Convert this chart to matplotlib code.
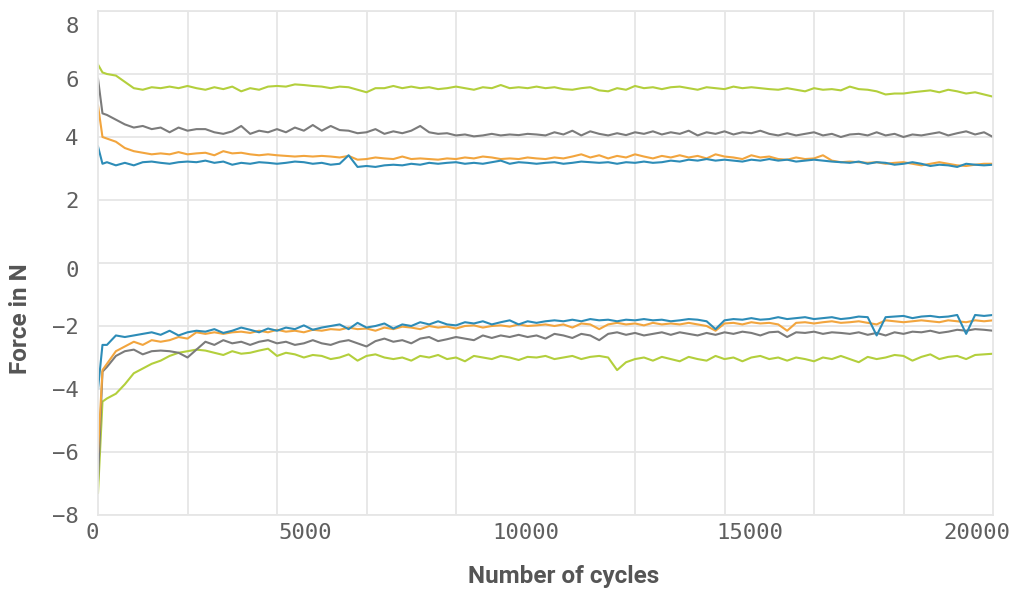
import matplotlib
matplotlib.use("Agg")
import matplotlib.pyplot as plt
import matplotlib.transforms as mtransforms

# Number of cycles (sample positions)
cycles = [0, 100] + list(range(200, 20001, 200))

# Upper (positive) force curves
green_up = [6.3, 6.05, 6.0, 5.95, 5.75, 5.55, 5.5, 5.58, 5.55, 5.6, 5.55, 5.62,
            5.55, 5.5, 5.58, 5.52, 5.6, 5.45, 5.55, 5.5, 5.6, 5.62, 5.6, 5.67, 5.65, 5.62,
            5.6, 5.55, 5.6, 5.58, 5.5, 5.42, 5.55, 5.55, 5.62, 5.55, 5.6, 5.55, 5.58, 5.52,
            5.55, 5.6, 5.55, 5.5, 5.58, 5.55, 5.65, 5.55, 5.58, 5.55, 5.6, 5.55, 5.58, 5.52,
            5.5, 5.55, 5.58, 5.48, 5.45, 5.55, 5.5, 5.62, 5.55, 5.58, 5.52, 5.58, 5.6, 5.55,
            5.5, 5.58, 5.55, 5.52, 5.6, 5.55, 5.58, 5.55, 5.52, 5.5, 5.55, 5.5, 5.45, 5.55,
            5.5, 5.52, 5.48, 5.6, 5.52, 5.5, 5.45, 5.35, 5.38, 5.38, 5.42, 5.45, 5.48, 5.42,
            5.5, 5.45, 5.38, 5.42, 5.35, 5.28]
gray_up = [5.85, 4.75, 4.7, 4.55, 4.4, 4.3, 4.35, 4.25, 4.3, 4.15, 4.3, 4.2,
           4.25, 4.25, 4.15, 4.1, 4.18, 4.35, 4.1, 4.2, 4.15, 4.25, 4.15, 4.3, 4.2, 4.38,
           4.2, 4.35, 4.22, 4.2, 4.12, 4.15, 4.25, 4.1, 4.18, 4.12, 4.2, 4.35, 4.15, 4.1,
           4.12, 4.05, 4.08, 4.02, 4.05, 4.1, 4.05, 4.08, 4.06, 4.1, 4.08, 4.05, 4.15, 4.08,
           4.2, 4.05, 4.18, 4.1, 4.05, 4.12, 4.06, 4.15, 4.1, 4.18, 4.08, 4.15, 4.1, 4.2,
           4.05, 4.15, 4.1, 4.18, 4.08, 4.15, 4.12, 4.2, 4.1, 4.05, 4.12, 4.05, 4.1, 4.15,
           4.05, 4.1, 4.0, 4.08, 4.1, 4.05, 4.15, 4.05, 4.1, 4.0, 4.08, 4.05, 4.1, 4.15,
           4.05, 4.12, 4.18, 4.08, 4.15, 4.0]
orange_up = [5.0, 4.0, 3.95, 3.85, 3.65, 3.55, 3.5, 3.45, 3.48, 3.45, 3.52, 3.45,
             3.48, 3.5, 3.42, 3.55, 3.48, 3.5, 3.45, 3.42, 3.45, 3.42, 3.4, 3.38, 3.4, 3.38,
             3.4, 3.38, 3.35, 3.4, 3.28, 3.3, 3.35, 3.32, 3.3, 3.38, 3.3, 3.32, 3.3, 3.28,
             3.32, 3.3, 3.35, 3.32, 3.38, 3.35, 3.3, 3.32, 3.3, 3.35, 3.32, 3.3, 3.35, 3.32,
             3.38, 3.45, 3.35, 3.42, 3.32, 3.4, 3.35, 3.45, 3.38, 3.32, 3.4, 3.35, 3.42, 3.35,
             3.4, 3.32, 3.45, 3.38, 3.35, 3.3, 3.42, 3.35, 3.38, 3.3, 3.28, 3.35, 3.3, 3.32,
             3.42, 3.25, 3.2, 3.22, 3.2, 3.18, 3.2, 3.15, 3.18, 3.2, 3.15, 3.1, 3.15, 3.2,
             3.15, 3.1, 3.08, 3.12, 3.15, 3.15]
blue_up = [3.7, 3.15, 3.2, 3.1, 3.18, 3.1, 3.2, 3.22, 3.18, 3.15, 3.2, 3.22,
           3.2, 3.25, 3.18, 3.22, 3.12, 3.18, 3.15, 3.2, 3.18, 3.15, 3.18, 3.22, 3.2, 3.15,
           3.18, 3.12, 3.15, 3.42, 3.05, 3.08, 3.05, 3.1, 3.12, 3.1, 3.15, 3.12, 3.18, 3.15,
           3.18, 3.2, 3.15, 3.18, 3.15, 3.2, 3.25, 3.15, 3.2, 3.18, 3.15, 3.18, 3.2, 3.15,
           3.18, 3.22, 3.2, 3.18, 3.2, 3.15, 3.2, 3.18, 3.22, 3.18, 3.2, 3.25, 3.22, 3.28,
           3.25, 3.3, 3.25, 3.28, 3.25, 3.22, 3.28, 3.25, 3.3, 3.25, 3.28, 3.22, 3.25, 3.28,
           3.25, 3.22, 3.2, 3.18, 3.22, 3.15, 3.2, 3.18, 3.12, 3.15, 3.2, 3.15, 3.08, 3.12,
           3.1, 3.05, 3.15, 3.12, 3.1, 3.12]

# Lower (negative) force curves
green_lo = [-7.3, -4.4, -4.3, -4.15, -3.85, -3.5, -3.35, -3.2, -3.1, -2.95, -2.85, -2.8,
            -2.75, -2.78, -2.85, -2.92, -2.8, -2.88, -2.85, -2.78, -2.72, -2.95, -2.85, -2.9, -3.0, -2.92,
            -2.95, -3.05, -3.0, -2.9, -3.1, -2.95, -2.9, -3.0, -3.05, -3.0, -3.1, -2.95, -3.0, -2.92,
            -3.05, -3.0, -3.12, -2.95, -3.0, -3.05, -2.95, -3.0, -3.08, -2.98, -3.0, -2.95, -3.05, -3.0,
            -2.95, -3.05, -2.98, -2.95, -3.0, -3.4, -3.15, -3.05, -3.0, -3.1, -2.98, -3.05, -3.12, -2.98,
            -3.05, -3.1, -2.95, -3.05, -3.0, -3.12, -3.0, -2.95, -3.05, -3.0, -3.1, -3.0, -3.05, -3.12,
            -3.0, -3.05, -2.95, -3.05, -3.15, -2.98, -3.05, -3.0, -2.92, -2.95, -3.1, -2.98, -2.9, -3.05,
            -2.98, -2.95, -3.05, -2.92, -2.9, -2.88]
gray_lo = [-6.9, -3.45, -3.3, -2.95, -2.8, -2.75, -2.9, -2.8, -2.78, -2.8, -2.85, -3.0,
           -2.75, -2.5, -2.6, -2.45, -2.55, -2.5, -2.6, -2.5, -2.45, -2.55, -2.5, -2.6, -2.55, -2.45,
           -2.55, -2.6, -2.5, -2.45, -2.55, -2.65, -2.48, -2.4, -2.5, -2.45, -2.55, -2.4, -2.35, -2.48,
           -2.42, -2.35, -2.4, -2.45, -2.3, -2.38, -2.3, -2.35, -2.28, -2.35, -2.3, -2.4, -2.25, -2.3,
           -2.38, -2.25, -2.3, -2.45, -2.25, -2.2, -2.28, -2.22, -2.3, -2.25, -2.2, -2.28, -2.2, -2.25,
           -2.3, -2.22, -2.28, -2.2, -2.25, -2.18, -2.22, -2.3, -2.2, -2.18, -2.35, -2.2, -2.22, -2.18,
           -2.25, -2.2, -2.22, -2.25, -2.2, -2.28, -2.22, -2.3, -2.2, -2.25, -2.18, -2.2, -2.15, -2.22,
           -2.18, -2.12, -2.15, -2.1, -2.12, -2.15]
orange_lo = [-6.0, -3.4, -3.2, -2.8, -2.65, -2.5, -2.6, -2.45, -2.5, -2.45, -2.35, -2.4,
             -2.2, -2.25, -2.2, -2.25, -2.2, -2.18, -2.22, -2.15, -2.2, -2.12, -2.18, -2.15, -2.2, -2.12,
             -2.15, -2.1, -2.12, -2.05, -2.1, -2.08, -2.15, -2.05, -2.1, -2.02, -2.05, -2.1, -2.0, -2.05,
             -2.02, -2.08, -2.0, -1.98, -2.05, -2.0, -1.98, -2.02, -1.95, -2.0, -1.98, -1.95, -2.0, -1.95,
             -2.05, -1.92, -1.95, -2.1, -1.95, -1.9, -1.95, -1.92, -1.98, -1.9, -1.95, -1.92, -1.95, -1.9,
             -1.95, -2.0, -2.15, -1.92, -1.9, -1.95, -1.88, -1.92, -1.9, -1.95, -2.15, -1.9, -1.88, -1.92,
             -1.88, -1.85, -1.9, -1.88, -1.85, -1.9, -1.95, -1.82, -1.85, -1.88, -1.85, -1.82, -1.85, -1.88,
             -1.82, -1.85, -1.88, -1.82, -1.85, -1.82]
blue_lo = [-4.0, -2.6, -2.6, -2.3, -2.35, -2.3, -2.25, -2.2, -2.28, -2.15, -2.3, -2.2,
           -2.15, -2.18, -2.1, -2.22, -2.15, -2.05, -2.12, -2.2, -2.08, -2.15, -2.05, -2.1, -1.98, -2.12,
           -2.05, -2.0, -1.95, -2.1, -1.9, -2.05, -2.0, -1.92, -2.08, -1.95, -2.0, -1.88, -1.95, -1.85,
           -1.95, -1.98, -1.88, -1.92, -1.85, -1.95, -1.88, -1.82, -1.95, -1.85, -1.9, -1.85, -1.82, -1.85,
           -1.8, -1.85, -1.78, -1.82, -1.8, -1.85, -1.8, -1.82, -1.78, -1.82, -1.8, -1.85, -1.82, -1.78,
           -1.8, -1.85, -2.1, -1.82, -1.78, -1.8, -1.75, -1.8, -1.78, -1.72, -1.78, -1.75, -1.72, -1.78,
           -1.75, -1.72, -1.78, -1.75, -1.7, -1.72, -2.3, -1.72, -1.7, -1.68, -1.75, -1.7, -1.68, -1.72,
           -1.7, -1.65, -2.25, -1.65, -1.68, -1.65]

x_ticks = [0, 5000, 10000, 15000, 20000]
y_ticks = [-8, -6, -4, -2, 0, 2, 4, 6, 8]

c_green = "#b3cf3c"
c_gray = "#7b7b7b"
c_orange = "#f2a53e"
c_blue = "#2d8cb7"

fig = plt.figure(figsize=(10.15, 5.89), dpi=100)
ax = fig.add_axes([98 / 1015, 1 - 515 / 589, 895 / 1015, 504 / 589])

lw = 1.5
for ys, c in [(green_up, c_green), (gray_up, c_gray), (orange_up, c_orange), (blue_up, c_blue),
              (green_lo, c_green), (gray_lo, c_gray), (orange_lo, c_orange), (blue_lo, c_blue)]:
    ax.plot(cycles, ys, color=c, lw=lw, solid_joinstyle="round")

ax.set_xlim(0, 20000)
ax.set_ylim(-8, 8)

grid_c = "#e6e6e6"
ax.set_xticks(range(0, 20001, 2000), minor=True)
ax.set_xticks(x_ticks)
ax.set_xticklabels([str(v) for v in x_ticks])
ax.set_yticks(y_ticks)
ax.set_yticklabels([("\u2212" + str(-v)) if v < 0 else str(v) for v in y_ticks])
ax.grid(False)
ax.grid(True, which="minor", axis="x", color=grid_c, lw=1.3)
ax.grid(True, which="major", axis="y", color=grid_c, lw=1.3)
ax.set_axisbelow(True)
for s in ax.spines.values():
    s.set_color(grid_c)
    s.set_linewidth(1.3)

ax.tick_params(axis="both", which="both", length=0)
ax.tick_params(axis="x", pad=6)
ax.tick_params(axis="y", pad=14)
for lab in ax.get_xticklabels() + ax.get_yticklabels():
    lab.set_fontfamily("DejaVu Sans Mono")
    lab.set_fontsize(16)
    lab.set_color("#5f5f5f")

# small offsets of tick labels as in the original
x_off = {"0": -6, "5000": -17, "10000": -20, "15000": -19, "20000": -16}
for lab in ax.get_xticklabels():
    dx = x_off.get(lab.get_text(), 0)
    lab.set_transform(lab.get_transform() + mtransforms.ScaledTranslation(dx / 100, 0, fig.dpi_scale_trans))
y_off = {"8": -14, "6": -5, "0": -6}
for lab in ax.get_yticklabels():
    dy = y_off.get(lab.get_text(), 0)
    lab.set_transform(lab.get_transform() + mtransforms.ScaledTranslation(0, dy / 100, fig.dpi_scale_trans))

ax.set_ylabel("Force in N", fontsize=17.5, fontfamily="Roboto", fontweight="bold", color="#555555")
ax.set_xlabel("Number of cycles", fontsize=17.5, fontfamily="Roboto", fontweight="bold", color="#555555")
ax.yaxis.set_label_coords(-0.074, 0.39)
ax.xaxis.set_label_coords(0.52, -0.100)

fig.savefig("out.png", dpi=100)
